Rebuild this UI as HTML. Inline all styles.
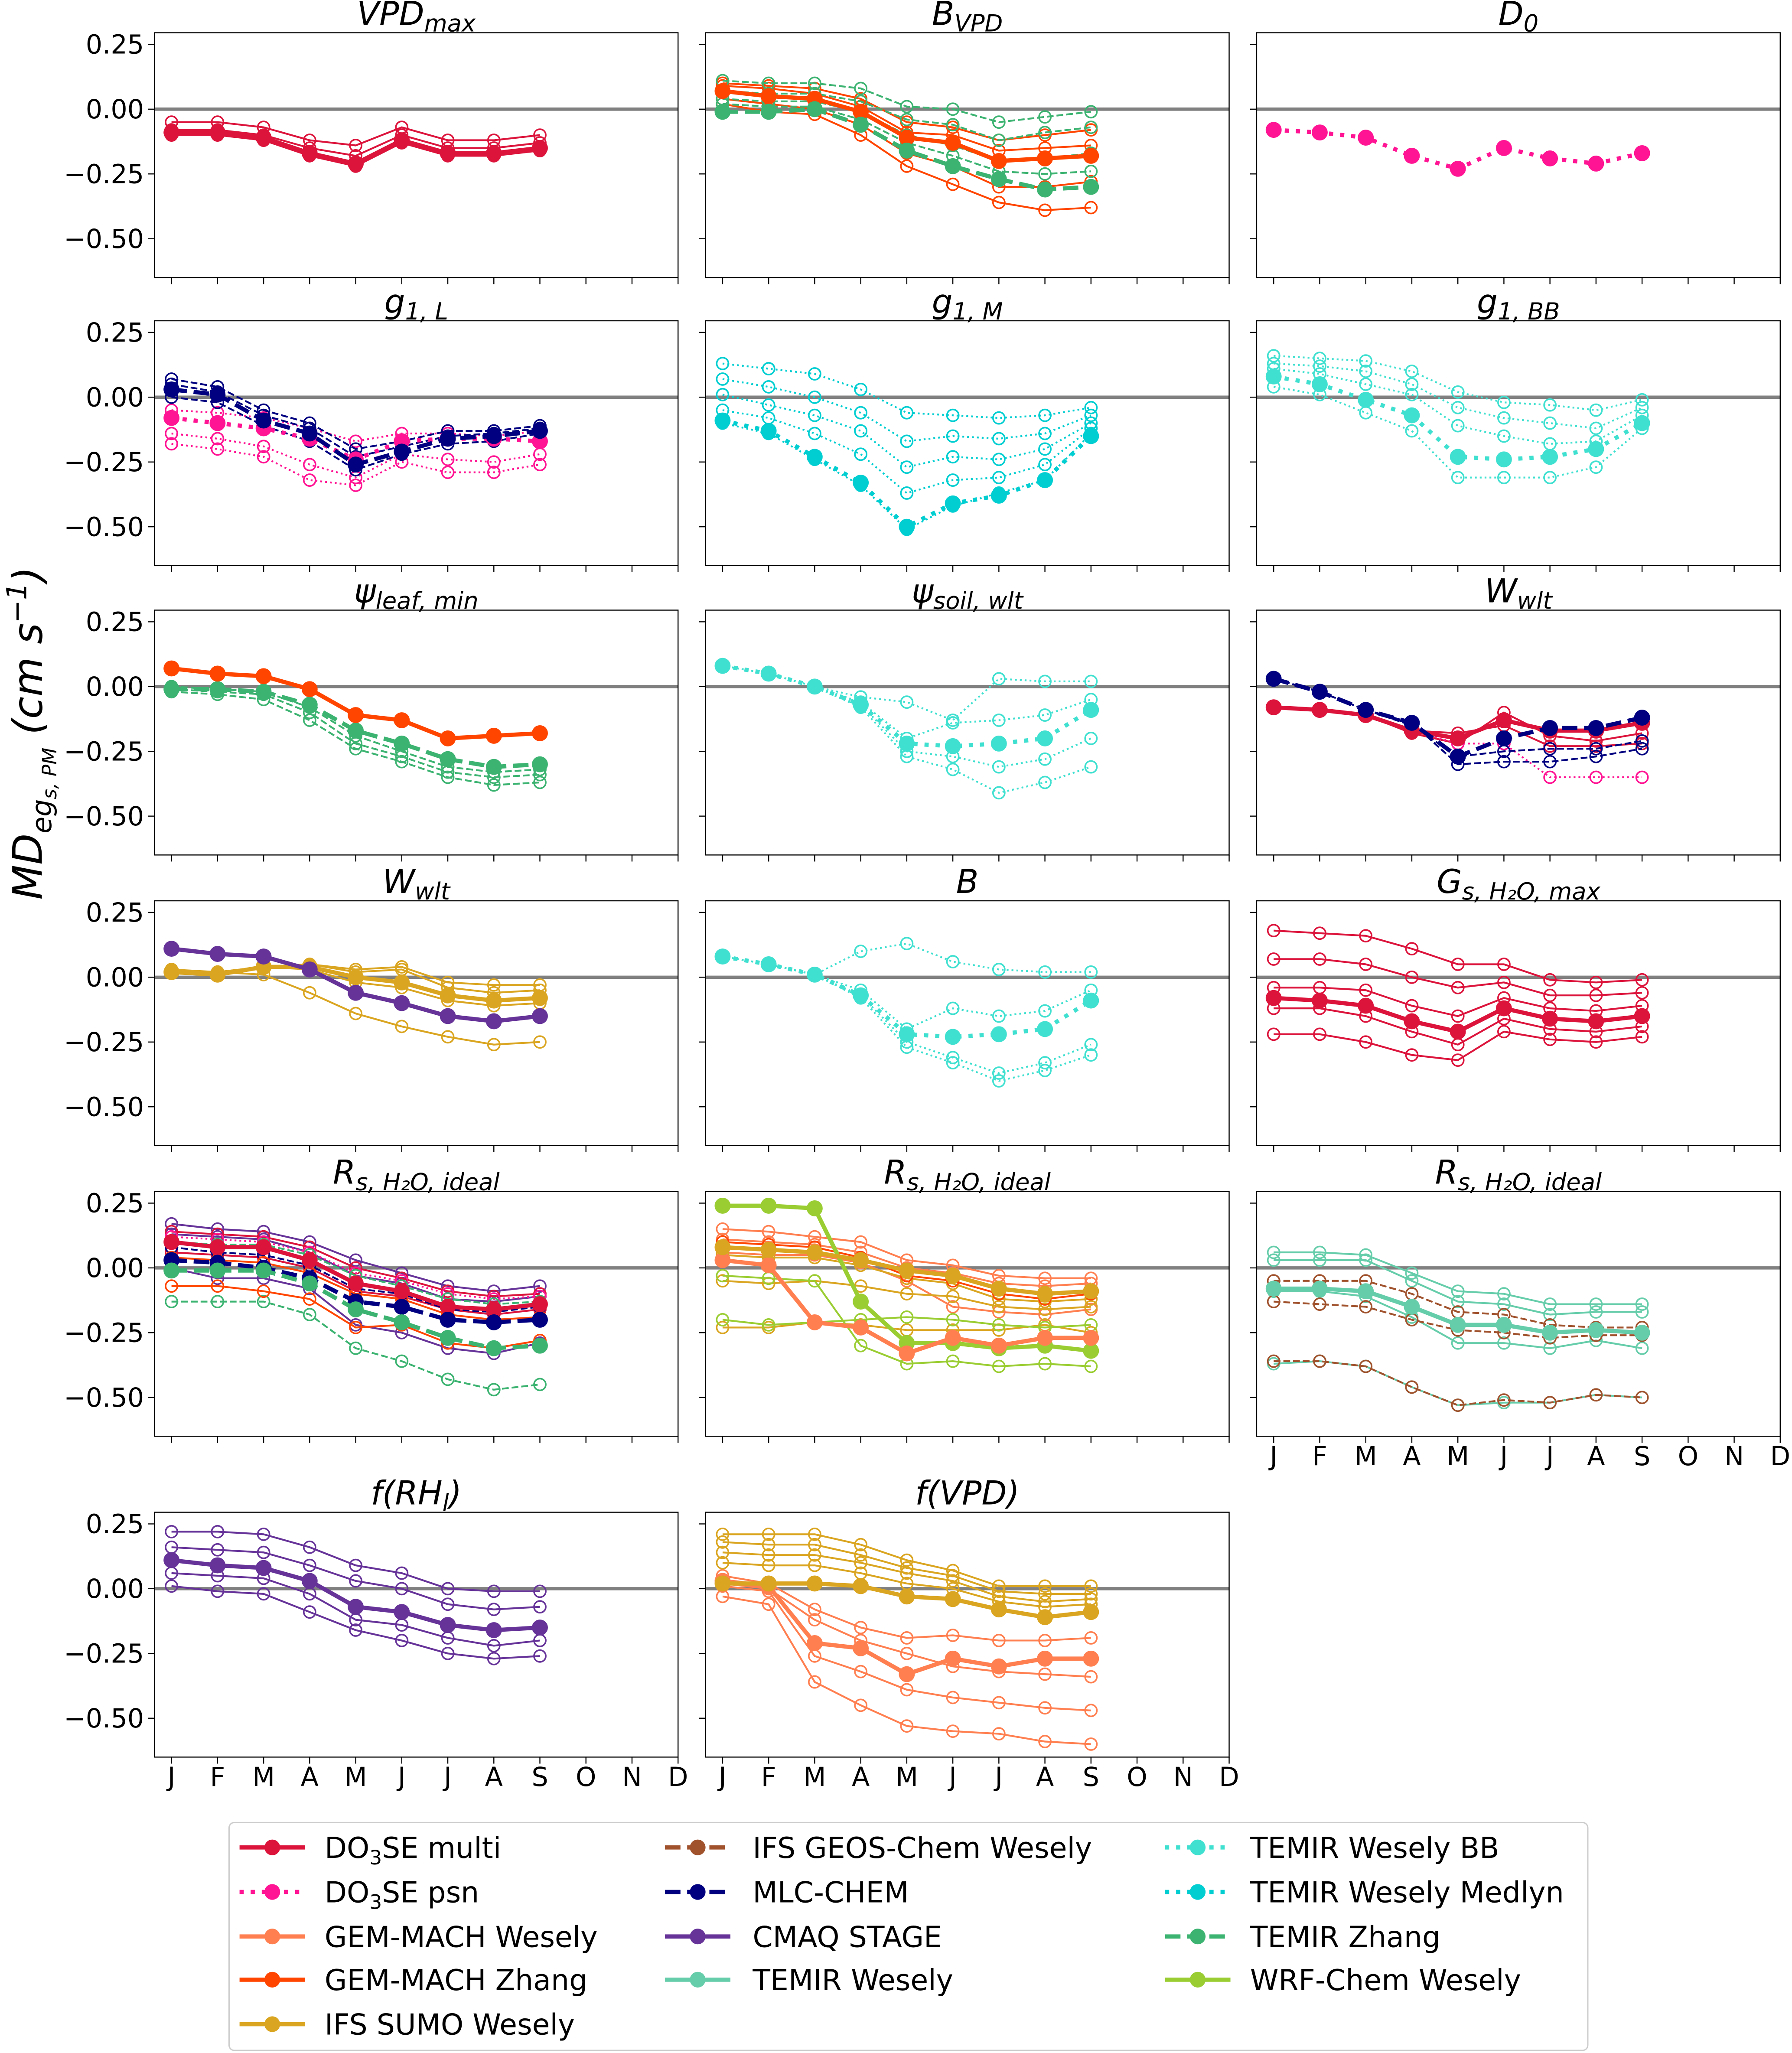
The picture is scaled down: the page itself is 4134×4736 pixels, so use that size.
<!DOCTYPE html>
<html><head><meta charset="utf-8">
<style>
html,body{margin:0;padding:0;background:#fff;}
svg{display:block;}
text{font-family:"DejaVu Sans","Liberation Sans",sans-serif;fill:#000;}
</style></head>
<body>
<svg id="chart" xmlns="http://www.w3.org/2000/svg" width="4134" height="4736" viewBox="0 0 1369 1568" preserveAspectRatio="none"></svg>
<script>
const months = ["J","F","M","A","M","J","J","A","S","O","N","D"];
const yTicks = [0.25, 0.00, -0.25, -0.50];
const yTickLabels = ["0.25","0.00","\u22120.25","\u22120.50"];

const models = ["DO3SE multi","DO3SE psn","GEM-MACH Wesely","GEM-MACH Zhang","IFS SUMO Wesely","IFS GEOS-Chem Wesely","MLC-CHEM","CMAQ STAGE","TEMIR Wesely","TEMIR Wesely BB","TEMIR Wesely Medlyn","TEMIR Zhang","WRF-Chem Wesely"];
const modelColors = ["#dc143c","#ff1493","#ff7f50","#ff4500","#daa520","#a0522d","#000080","#663399","#66cdaa","#40e0d0","#00ced1","#3cb371","#9acd32"];
const modelStyles = ["solid","dotted","solid","solid","solid","dashed","dashed","solid","solid","dotted","dotted","dashed","solid"];

const p_vpdmax = [
 [0,0,[-0.05,-0.05,-0.07,-0.12,-0.14,-0.07,-0.12,-0.12,-0.10]],
 [0,0,[-0.08,-0.08,-0.10,-0.15,-0.18,-0.10,-0.15,-0.15,-0.13]],
 [0,0,[-0.10,-0.10,-0.12,-0.18,-0.22,-0.13,-0.18,-0.18,-0.16]],
 [0,1,[-0.09,-0.09,-0.11,-0.17,-0.21,-0.12,-0.17,-0.17,-0.15]]];
const p_bvpd = [
 [3,0,[0.10,0.09,0.08,0.04,-0.05,-0.07,-0.12,-0.10,-0.08]],
 [3,0,[0.04,0.02,0.00,-0.06,-0.17,-0.22,-0.30,-0.30,-0.28]],
 [3,0,[0.02,-0.01,-0.02,-0.10,-0.22,-0.29,-0.36,-0.39,-0.38]],
 [3,0,[0.09,0.08,0.06,0.01,-0.09,-0.10,-0.16,-0.15,-0.14]],
 [11,0,[0.11,0.10,0.10,0.08,0.01,0.00,-0.05,-0.03,-0.01]],
 [11,0,[0.07,0.06,0.06,0.03,-0.04,-0.06,-0.12,-0.09,-0.07]],
 [11,0,[0.04,0.03,0.03,-0.01,-0.10,-0.14,-0.20,-0.19,-0.17]],
 [11,0,[0.02,0.01,0.01,-0.04,-0.13,-0.18,-0.24,-0.25,-0.24]],
 [3,1,[0.07,0.05,0.04,-0.01,-0.11,-0.13,-0.20,-0.19,-0.18]],
 [11,1,[-0.01,-0.01,0.00,-0.06,-0.16,-0.22,-0.27,-0.31,-0.30]]];
const p_d0 = [
 [1,1,[-0.08,-0.09,-0.11,-0.18,-0.23,-0.15,-0.19,-0.21,-0.17]]];
const p_g1l = [
 [1,0,[-0.14,-0.16,-0.19,-0.26,-0.31,-0.22,-0.24,-0.25,-0.22]],
 [1,0,[-0.18,-0.20,-0.23,-0.32,-0.34,-0.25,-0.29,-0.29,-0.26]],
 [1,0,[-0.05,-0.06,-0.08,-0.12,-0.17,-0.14,-0.14,-0.15,-0.13]],
 [6,0,[0.07,0.04,-0.05,-0.10,-0.20,-0.17,-0.13,-0.13,-0.11]],
 [6,0,[0.00,-0.02,-0.11,-0.17,-0.28,-0.22,-0.18,-0.17,-0.14]],
 [6,0,[0.05,0.02,-0.07,-0.12,-0.23,-0.19,-0.15,-0.14,-0.12]],
 [1,1,[-0.08,-0.10,-0.12,-0.16,-0.24,-0.17,-0.16,-0.16,-0.17]],
 [6,1,[0.03,0.01,-0.09,-0.14,-0.26,-0.21,-0.16,-0.15,-0.13]]];
const p_g1m = [
 [10,0,[0.13,0.11,0.09,0.03,-0.06,-0.07,-0.08,-0.07,-0.04]],
 [10,0,[0.07,0.04,0.00,-0.06,-0.17,-0.15,-0.16,-0.14,-0.07]],
 [10,0,[0.01,-0.03,-0.07,-0.13,-0.27,-0.23,-0.24,-0.20,-0.10]],
 [10,0,[-0.05,-0.08,-0.14,-0.22,-0.37,-0.32,-0.31,-0.26,-0.12]],
 [10,0,[-0.10,-0.14,-0.24,-0.34,-0.51,-0.42,-0.37,-0.32,-0.14]],
 [10,1,[-0.09,-0.13,-0.23,-0.33,-0.50,-0.41,-0.38,-0.32,-0.15]]];
const p_g1bb = [
 [9,0,[0.16,0.15,0.14,0.10,0.02,-0.02,-0.03,-0.05,-0.01]],
 [9,0,[0.13,0.12,0.10,0.05,-0.04,-0.08,-0.10,-0.12,-0.04]],
 [9,0,[0.11,0.09,0.05,0.01,-0.11,-0.15,-0.18,-0.17,-0.07]],
 [9,0,[0.04,0.01,-0.06,-0.13,-0.31,-0.31,-0.31,-0.27,-0.12]],
 [9,1,[0.08,0.05,-0.01,-0.07,-0.23,-0.24,-0.23,-0.20,-0.10]]];
const p_psileaf = [
 [11,0,[-0.01,-0.02,-0.03,-0.10,-0.22,-0.27,-0.33,-0.35,-0.34]],
 [11,0,[-0.02,-0.03,-0.05,-0.13,-0.24,-0.29,-0.35,-0.38,-0.37]],
 [11,0,[0.00,-0.01,-0.02,-0.08,-0.19,-0.25,-0.31,-0.33,-0.32]],
 [11,1,[-0.01,-0.01,-0.02,-0.07,-0.17,-0.22,-0.28,-0.31,-0.30]],
 [3,1,[0.07,0.05,0.04,-0.01,-0.11,-0.13,-0.20,-0.19,-0.18]]];
const p_psisoil = [
 [9,0,[0.08,0.05,0.00,-0.04,-0.06,-0.13,0.03,0.02,0.02]],
 [9,0,[0.08,0.05,0.00,-0.06,-0.20,-0.14,-0.13,-0.11,-0.05]],
 [9,0,[0.08,0.05,0.00,-0.07,-0.25,-0.27,-0.31,-0.28,-0.20]],
 [9,0,[0.08,0.05,0.00,-0.08,-0.27,-0.32,-0.41,-0.37,-0.31]],
 [9,1,[0.08,0.05,0.00,-0.07,-0.22,-0.23,-0.22,-0.20,-0.09]]];
const p_wwlt1 = [
 [0,0,[-0.08,-0.09,-0.11,-0.18,-0.22,-0.10,-0.19,-0.21,-0.18]],
 [0,0,[-0.08,-0.09,-0.11,-0.17,-0.18,-0.15,-0.23,-0.23,-0.22]],
 [1,0,[-0.08,-0.09,-0.11,-0.17,-0.22,-0.22,-0.35,-0.35,-0.35]],
 [6,0,[0.03,-0.02,-0.09,-0.14,-0.30,-0.29,-0.29,-0.27,-0.24]],
 [6,0,[0.03,-0.02,-0.09,-0.15,-0.27,-0.25,-0.24,-0.24,-0.21]],
 [0,1,[-0.08,-0.09,-0.11,-0.17,-0.20,-0.13,-0.17,-0.17,-0.14]],
 [6,1,[0.03,-0.02,-0.09,-0.14,-0.27,-0.20,-0.16,-0.16,-0.12]]];
const p_wwlt2 = [
 [4,0,[0.03,0.02,0.01,-0.06,-0.14,-0.19,-0.23,-0.26,-0.25]],
 [4,0,[0.02,0.02,0.04,0.05,0.02,0.03,-0.04,-0.06,-0.05]],
 [4,0,[0.02,0.02,0.04,0.05,0.03,0.04,-0.02,-0.03,-0.03]],
 [4,0,[0.02,0.02,0.04,0.03,-0.02,-0.04,-0.09,-0.11,-0.10]],
 [4,1,[0.02,0.01,0.04,0.04,0.00,-0.02,-0.07,-0.09,-0.08]],
 [7,1,[0.11,0.09,0.08,0.03,-0.06,-0.10,-0.15,-0.17,-0.15]]];
const p_b = [
 [9,0,[0.08,0.05,0.01,0.10,0.13,0.06,0.03,0.02,0.02]],
 [9,0,[0.08,0.05,0.01,-0.05,-0.20,-0.12,-0.15,-0.13,-0.05]],
 [9,0,[0.08,0.05,0.01,-0.07,-0.25,-0.31,-0.37,-0.33,-0.26]],
 [9,0,[0.08,0.05,0.01,-0.08,-0.27,-0.33,-0.40,-0.36,-0.30]],
 [9,1,[0.08,0.05,0.01,-0.07,-0.22,-0.23,-0.22,-0.20,-0.09]]];
const p_gsmax = [
 [0,0,[0.18,0.17,0.16,0.11,0.05,0.05,-0.01,-0.02,-0.01]],
 [0,0,[0.07,0.07,0.05,0.00,-0.04,-0.02,-0.07,-0.07,-0.06]],
 [0,0,[-0.04,-0.04,-0.05,-0.11,-0.15,-0.08,-0.12,-0.13,-0.11]],
 [0,0,[-0.12,-0.12,-0.15,-0.21,-0.26,-0.16,-0.20,-0.21,-0.19]],
 [0,0,[-0.22,-0.22,-0.25,-0.30,-0.32,-0.21,-0.24,-0.25,-0.23]],
 [0,1,[-0.08,-0.09,-0.11,-0.17,-0.21,-0.12,-0.16,-0.17,-0.15]]];
const p_rs1 = [
 [7,0,[0.17,0.15,0.14,0.10,0.03,-0.02,-0.07,-0.09,-0.07]],
 [7,0,[0.00,-0.04,-0.04,-0.08,-0.22,-0.25,-0.31,-0.33,-0.29]],
 [7,0,[0.13,0.12,0.11,0.06,-0.03,-0.06,-0.12,-0.13,-0.11]],
 [0,0,[0.14,0.13,0.12,0.08,0.00,-0.04,-0.09,-0.11,-0.10]],
 [0,0,[0.06,0.05,0.04,0.00,-0.09,-0.11,-0.16,-0.18,-0.16]],
 [1,0,[0.12,0.11,0.10,0.06,-0.02,-0.05,-0.10,-0.12,-0.11]],
 [6,0,[0.08,0.06,0.05,0.01,-0.08,-0.10,-0.16,-0.17,-0.15]],
 [11,0,[-0.13,-0.13,-0.13,-0.18,-0.31,-0.36,-0.43,-0.47,-0.45]],
 [11,0,[0.10,0.09,0.09,0.05,-0.03,-0.07,-0.12,-0.14,-0.13]],
 [3,0,[-0.07,-0.07,-0.09,-0.12,-0.23,-0.22,-0.29,-0.31,-0.28]],
 [3,0,[0.04,0.03,0.02,-0.02,-0.10,-0.12,-0.18,-0.20,-0.19]],
 [0,1,[0.10,0.08,0.08,0.03,-0.06,-0.09,-0.15,-0.16,-0.14]],
 [6,1,[0.03,0.02,0.00,-0.04,-0.13,-0.15,-0.20,-0.21,-0.20]],
 [11,1,[-0.01,-0.01,-0.01,-0.06,-0.16,-0.21,-0.27,-0.31,-0.30]]];
const p_rs2 = [
 [2,0,[0.15,0.14,0.12,0.10,0.03,0.01,-0.03,-0.04,-0.04]],
 [2,0,[0.11,0.10,0.09,0.06,0.00,-0.02,-0.06,-0.07,-0.06]],
 [2,0,[0.06,0.05,0.05,0.02,-0.05,-0.15,-0.17,-0.18,-0.16]],
 [4,0,[-0.23,-0.23,-0.21,-0.22,-0.24,-0.24,-0.24,-0.22,-0.25]],
 [4,0,[0.05,0.04,0.04,0.01,-0.04,-0.06,-0.12,-0.13,-0.12]],
 [4,0,[-0.05,-0.06,-0.05,-0.07,-0.10,-0.11,-0.15,-0.16,-0.15]],
 [12,0,[-0.03,-0.04,-0.05,-0.30,-0.37,-0.36,-0.38,-0.37,-0.38]],
 [12,0,[-0.20,-0.22,-0.21,-0.20,-0.19,-0.20,-0.22,-0.23,-0.22]],
 [3,0,[0.10,0.09,0.08,0.04,-0.03,-0.05,-0.10,-0.12,-0.10]],
 [12,1,[0.24,0.24,0.23,-0.13,-0.29,-0.29,-0.31,-0.30,-0.32]],
 [2,1,[0.03,0.01,-0.21,-0.23,-0.33,-0.27,-0.30,-0.27,-0.27]],
 [4,1,[0.08,0.07,0.06,0.03,-0.01,-0.03,-0.08,-0.10,-0.09]]];
const p_rs3 = [
 [8,0,[0.06,0.06,0.05,-0.02,-0.09,-0.10,-0.14,-0.14,-0.14]],
 [8,0,[0.03,0.03,0.03,-0.05,-0.13,-0.14,-0.18,-0.17,-0.17]],
 [8,0,[-0.09,-0.09,-0.11,-0.19,-0.29,-0.29,-0.31,-0.28,-0.31]],
 [8,0,[-0.37,-0.36,-0.38,-0.46,-0.53,-0.52,-0.52,-0.49,-0.50]],
 [5,0,[-0.05,-0.05,-0.05,-0.10,-0.17,-0.18,-0.22,-0.23,-0.23]],
 [5,0,[-0.36,-0.36,-0.38,-0.46,-0.53,-0.51,-0.52,-0.49,-0.50]],
 [5,0,[-0.13,-0.14,-0.15,-0.20,-0.24,-0.25,-0.27,-0.26,-0.26]],
 [8,1,[-0.08,-0.08,-0.09,-0.15,-0.22,-0.22,-0.25,-0.24,-0.25]]];
const p_frh = [
 [7,0,[0.22,0.22,0.21,0.16,0.09,0.06,0.00,-0.01,-0.01]],
 [7,0,[0.16,0.15,0.14,0.09,0.03,0.00,-0.06,-0.08,-0.07]],
 [7,0,[0.06,0.05,0.04,-0.02,-0.12,-0.14,-0.19,-0.22,-0.20]],
 [7,0,[0.01,-0.01,-0.02,-0.09,-0.16,-0.20,-0.25,-0.27,-0.26]],
 [7,1,[0.11,0.09,0.08,0.03,-0.07,-0.09,-0.14,-0.16,-0.15]]];
const p_fvpd = [
 [2,0,[-0.03,-0.06,-0.36,-0.45,-0.53,-0.55,-0.56,-0.59,-0.60]],
 [2,0,[0.01,-0.01,-0.26,-0.32,-0.39,-0.42,-0.44,-0.46,-0.47]],
 [2,0,[0.02,0.00,-0.12,-0.20,-0.25,-0.30,-0.32,-0.33,-0.34]],
 [2,0,[0.05,0.02,-0.08,-0.15,-0.19,-0.18,-0.20,-0.20,-0.19]],
 [4,0,[0.21,0.21,0.21,0.17,0.11,0.07,0.01,0.01,0.01]],
 [4,0,[0.18,0.17,0.17,0.13,0.08,0.05,-0.01,-0.02,-0.02]],
 [4,0,[0.14,0.13,0.13,0.10,0.06,0.03,-0.03,-0.05,-0.04]],
 [4,0,[0.10,0.09,0.09,0.06,0.02,0.00,-0.05,-0.07,-0.06]],
 [2,1,[0.03,0.01,-0.21,-0.23,-0.33,-0.27,-0.30,-0.27,-0.27]],
 [4,1,[0.02,0.02,0.02,0.01,-0.03,-0.04,-0.08,-0.11,-0.09]]];

const NS="http://www.w3.org/2000/svg";
const svg=document.getElementById('chart');
function el(tag,attrs,parent){const e=document.createElementNS(NS,tag);for(const k in attrs)e.setAttribute(k,attrs[k]);(parent||svg).appendChild(e);return e;}

const colX=[118,539,960], W=400, H=187;
const rowY=[25,245,466,688,910,1155];
const Y0=0.295, Y1=-0.65, X0=-0.37, X1=11;
const panels=[
 [0,0,p_vpdmax,"VPD","max",true,false],
 [0,1,p_bvpd,"B","VPD",true,false],
 [0,2,p_d0,"D","0",true,false],
 [1,0,p_g1l,"g","1, L",true,false],
 [1,1,p_g1m,"g","1, M",true,false],
 [1,2,p_g1bb,"g","1, BB",true,false],
 [2,0,p_psileaf,"\u03c8","leaf, min",true,false],
 [2,1,p_psisoil,"\u03c8","soil, wlt",true,false],
 [2,2,p_wwlt1,"W","wlt",true,false],
 [3,0,p_wwlt2,"W","wlt",true,false],
 [3,1,p_b,"B","",true,false],
 [3,2,p_gsmax,"G","s, H\u2082O, max",true,false],
 [4,0,p_rs1,"R","s, H\u2082O, ideal",true,false],
 [4,1,p_rs2,"R","s, H\u2082O, ideal",true,false],
 [4,2,p_rs3,"R","s, H\u2082O, ideal",true,true],
 [5,0,p_frh,"f(RH","l",true,true],
 [5,1,p_fvpd,"f(VPD)","",true,true]
];
function dashFor(style,lw){
 if(style==="dashed") return (3.7*lw)+","+(1.6*lw);
 if(style==="dotted") return (1*lw)+","+(1.65*lw);
 return "none";
}
panels.forEach((p,pi)=>{
 const [r,c,series,base,sub,,showX]=p;
 const px=colX[c], py=rowY[r];
 const g=el('g',{});
 
 
 const sx=v=>px+(v-X0)/(X1-X0)*W;
 const sy=v=>py+(Y0-v)/(Y0-Y1)*H;
 const clipId='clip'+pi;
 const cp=el('clipPath',{id:clipId},g); el('rect',{x:px,y:py,width:W,height:H},cp);
 const z=el('line',{x1:px,x2:px+W,y1:sy(0),y2:sy(0),stroke:'#808080','stroke-width':2.5},g);
 
 
 const sg=el('g',{'clip-path':'url(#'+clipId+')'},g);
 series.forEach(s=>{
  const [mi,main,vals]=s; const col=modelColors[mi];
  const lw=main?3.2:1.4;
  const pts=vals.map((v,i)=>sx(i)+","+sy(v)).join(" ");
  const pl=el('polyline',{points:pts,fill:'none',stroke:col,'stroke-width':lw,'stroke-dasharray':dashFor(modelStyles[mi],lw),'stroke-linejoin':'round'},sg);
  
  
  vals.forEach((v,i)=>{
   const m=el('circle',{cx:sx(i),cy:sy(v),r:main?5.5:4.5,fill:main?col:'none',stroke:col,'stroke-width':1.2},sg);
   
   
  });
 });
 const fr=el('rect',{x:px,y:py,width:W,height:H,fill:'none',stroke:'#000','stroke-width':0.8},g);
 
 
 yTicks.forEach((t,i)=>{
  el('line',{x1:px-5,x2:px,y1:sy(t),y2:sy(t),stroke:'#000','stroke-width':0.8},g);
  if(c===0){
   const tx=el('text',{x:px-8,y:sy(t)+7,'text-anchor':'end','font-size':20},g);
   tx.textContent=yTickLabels[i];
   
   
  }
 });
 months.forEach((m,i)=>{
  el('line',{x1:sx(i),x2:sx(i),y1:py+H,y2:py+H+5,stroke:'#000','stroke-width':0.8},g);
  if(showX){
   const tx=el('text',{x:sx(i),y:py+H+22,'text-anchor':'middle','font-size':20},g);
   tx.textContent=m;
   
   
  }
 });
 const tt=el('text',{x:px+W/2,y:py-6,'text-anchor':'middle','font-size':25,'font-style':'italic'},g);
 
 
 const b=el('tspan',{},tt); b.textContent=base;
 if(sub){const s=el('tspan',{'font-size':18,dy:5},tt); s.textContent=sub;}
 if(base==="f(RH"){const e=el('tspan',{dy:-5},tt); e.textContent=")";}
});
const yl=el('text',{transform:'translate(32,560) rotate(-90)','text-anchor':'middle','font-size':31,'font-style':'italic'});


let t1=el('tspan',{},yl);t1.textContent='MD';
let t2=el('tspan',{'font-size':21,dy:7},yl);t2.textContent='eg';
let t3=el('tspan',{'font-size':15,dy:4},yl);t3.textContent='s, PM';
let t4=el('tspan',{dy:-11},yl);t4.textContent=' (cm s';
let t5=el('tspan',{'font-size':21,dy:-12},yl);t5.textContent='\u22121';
let t6=el('tspan',{dy:12},yl);t6.textContent=')';

const lg=el('g',{});


el('rect',{x:175,y:1392,width:1038,height:174,rx:4,fill:'#fff',stroke:'#ccc','stroke-width':1},lg);
const legX=[183,508,890], legTX=[248,575,955], legY=[1411,1445,1479,1512,1546];
const legOrder=[[0,1,2,3,4],[5,6,7,8],[9,10,11,12]];
legOrder.forEach((col,ci)=>col.forEach((mi,ri)=>{
 const eg=el('g',{},lg);
 
 
 const y=legY[ri];
 el('line',{x1:legX[ci],x2:legX[ci]+50,y1:y,y2:y,stroke:modelColors[mi],'stroke-width':3.2,'stroke-dasharray':dashFor(modelStyles[mi],3.2)},eg);
 el('circle',{cx:legX[ci]+25,cy:y,r:6,fill:modelColors[mi]},eg);
 const tx=el('text',{x:legTX[ci],y:y+8,'font-size':22},eg);
 const nm=models[mi];
 if(nm.startsWith("DO3SE")){
  const a=el('tspan',{},tx);a.textContent='DO';
  const b=el('tspan',{'font-size':15,dy:5},tx);b.textContent='3';
  const d=el('tspan',{dy:-5},tx);d.textContent='SE'+nm.slice(5);
 } else tx.textContent=nm;
}));
</script>
</body></html>
